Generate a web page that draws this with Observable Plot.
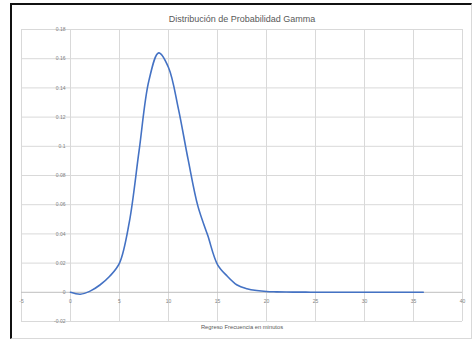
<!DOCTYPE html>
<html>
<head>
<meta charset="utf-8">
<script src="https://cdn.jsdelivr.net/npm/d3@7"></script>
<script src="https://cdn.jsdelivr.net/npm/@observablehq/plot@0.6"></script>
<style>
  html, body { margin: 0; padding: 0; background: #fff; }
  #wrap { position: relative; width: 473px; height: 339px; overflow: hidden; }
  #frame { position: absolute; left: 10px; top: 3px; width: 459px; height: 333px;
           border-top: 2px solid #111; border-left: 2px solid #111;
           border-right: 1px solid #d9d9d9; border-bottom: 1px solid #d9d9d9; }
  #chart { position: absolute; left: 0; top: 0; }
</style>
</head>
<body>
<div id="wrap"><div id="frame"></div><div id="chart"></div></div>
<script>
const title = "Distribución de Probabilidad Gamma";
const xLabel = "Regreso Frecuencia en minutos";
const minutes = [0,1,2,3,4,5,6,7,8,9,10,11,12,13,14,15,16,17,18,19,20,21,22,23,24,25,26,27,28,29,30,31,32,33,34,35,36];
const density = [0,-0.0013,0.0008,0.005,0.011,0.020,0.048,0.097,0.145,0.164,0.154,0.126,0.091,0.059,0.039,0.019,0.011,0.005,0.0025,0.0012,0.0005,0.0003,0.0002,0.0001,0.0001,0.00005,0.00003,0.00002,0.00001,0,0,0,0,0,0,0,0];
const xTicks = [-5,0,5,10,15,20,25,30,35,40];
const yTicks = [-0.02,0,0.02,0.04,0.06,0.08,0.1,0.12,0.14,0.16,0.18];
const yTickLabels = ["-0.02","0","0.02","0.04","0.06","0.08","0.1","0.12","0.14","0.16","0.18"];

const data = minutes.map((m, i) => ({x: m, y: density[i]}));
const yLab = yTicks.map((v, i) => ({v, label: yTickLabels[i]}));

const chart = Plot.plot({
  width: 473,
  height: 339,
  marginLeft: 21,
  marginRight: 11,
  marginTop: 29,
  marginBottom: 18,
  style: {fontFamily: "Liberation Sans, Arial, sans-serif", background: "transparent"},
  x: {domain: [-5, 40], axis: null},
  y: {domain: [-0.02, 0.18], axis: null},
  marks: [
    Plot.ruleX(xTicks, {stroke: "#d9d9d9", strokeWidth: 1}),
    Plot.ruleY(yTicks.filter(v => v !== 0), {stroke: "#d9d9d9", strokeWidth: 1}),
    Plot.ruleY([0], {stroke: "#bfbfbf", strokeWidth: 1}),
    Plot.line(data, {x: "x", y: "y", curve: "catmull-rom", stroke: "#4472C4", strokeWidth: 1.6}),
    Plot.text(yLab, {x: () => 0, y: "v", text: "label", textAnchor: "end", dx: -5, fontSize: 5, fill: "#7f7f7f"}),
    Plot.text(xTicks, {x: d => d, y: () => 0, text: d => String(d), dy: 9, fontSize: 5, fill: "#7f7f7f"}),
    Plot.text([title], {frameAnchor: "top", dy: -14, fontSize: 9, fill: "#595959"}),
    Plot.text([xLabel], {frameAnchor: "bottom", dy: 7, fontSize: 5.8, fill: "#595959"})
  ]
});
document.getElementById("chart").appendChild(chart);
</script>
</body>
</html>
